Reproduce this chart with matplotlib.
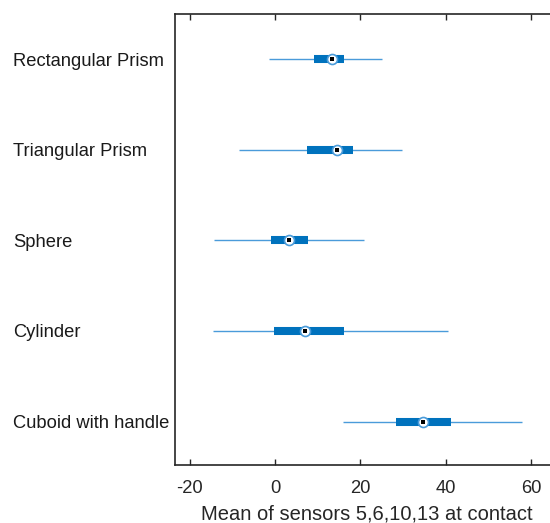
import matplotlib
matplotlib.use("Agg")
import matplotlib.pyplot as plt

categories = ["Rectangular Prism", "Triangular Prism", "Sphere", "Cylinder", "Cuboid with handle"]
whisker_low = [-1.4, -8.5, -14.3, -14.5, 15.9]
q1 = [9.1, 7.4, -1.0, -0.2, 28.3]
median = [13.4, 14.5, 3.3, 7.0, 34.6]
q3 = [16.2, 18.2, 7.8, 16.2, 41.1]
whisker_high = [25.1, 29.7, 20.8, 40.4, 57.8]
xticks = [-20, 0, 20, 40, 60]

plt.rcParams['font.family'] = ['Liberation Sans', 'DejaVu Sans']

fig = plt.figure(figsize=(5.5, 5.23), dpi=100)
W, H = 550, 523
left, right, top, bottom = 175, 559, 14, 465
ax = fig.add_axes([left / W, 1 - bottom / H, (right - left) / W, (bottom - top) / H])

pos = list(range(1, len(categories) + 1))
blue = '#0072BD'
light = '#4A9BDA'

ax.hlines(pos, whisker_low, whisker_high, color=light, lw=1.0, zorder=2)
ax.hlines(pos, q1, q3, color=blue, lw=5.8, zorder=3)
ax.plot(median, pos, 'o', ms=7.2, mfc='white', mec=light, mew=1.2, zorder=4, ls='none')
ax.plot(median, pos, 's', ms=2.2, mew=0, color='black', zorder=5, ls='none')

ax.set_xlim(-23.4, 66.5)
ax.set_ylim(5.48, 0.5)
ax.set_xticks(xticks)
ax.set_xticklabels([str(t) for t in xticks], fontsize=13.2)
ax.set_yticks(pos)
ax.set_yticklabels(categories, fontsize=13.2)
for lab in ax.get_yticklabels():
    lab.set_horizontalalignment('left')
ax.tick_params(axis='y', length=0, pad=(left - 13) * 0.72)
ax.tick_params(axis='x', direction='in', top=True, length=4, width=1, color='#262626',
               labelcolor='#262626', pad=11)
ax.tick_params(axis='y', labelcolor='#1a1a1a')
for s in ['left', 'top', 'bottom']:
    ax.spines[s].set_color('#262626')
    ax.spines[s].set_linewidth(1.2)
ax.spines['right'].set_visible(False)
ax.set_xlabel("Mean of sensors 5,6,10,13 at contact", fontsize=14.5, color='#262626', labelpad=5)

fig.savefig("out.png", dpi=100)
